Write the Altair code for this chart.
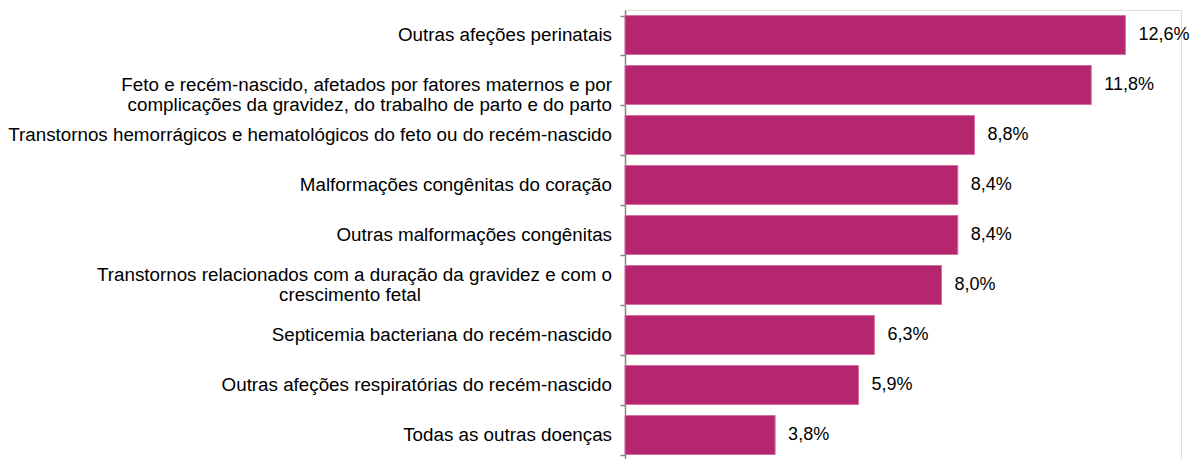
import altair as alt
import pandas as pd

categories = [
    "Outras afeções perinatais",
    "Feto e recém-nascido, afetados por fatores maternos e por|complicações da gravidez, do trabalho de parto e do parto",
    "Transtornos hemorrágicos e hematológicos do feto ou do recém-nascido",
    "Malformações congênitas do coração",
    "Outras malformações congênitas",
    "Transtornos relacionados com a duração da gravidez e com o|crescimento fetal",
    "Septicemia bacteriana do recém-nascido",
    "Outras afeções respiratórias do recém-nascido",
    "Todas as outras doenças",
]
values = [12.6, 11.74, 8.8, 8.38, 8.38, 7.97, 6.28, 5.88, 3.78]
value_labels = ["12,6%", "11,8%", "8,8%", "8,4%", "8,4%", "8,0%", "6,3%", "5,9%", "3,8%"]
centered = [False, False, False, False, False, True, False, False, False]

df = pd.DataFrame({
    "cat": categories,
    "value": values,
    "vlabel": value_labels,
    "centered": centered,
    "first": [c.split("|")[0] for c in categories],
    "second": [c.split("|")[1] if "|" in c else "" for c in categories],
})

FONT = "Liberation Sans"
COLOR = "#B5266F"
CAT_SIZE = 18.8

y = alt.Y("cat:N", sort=categories, title=None,
          scale=alt.Scale(paddingInner=0.22, paddingOuter=0.11),
          axis=alt.Axis(labels=False, domainColor="#868686", domainWidth=1.5,
                        tickColor="#868686", tickWidth=1.5, tickSize=5,
                        tickBand="extent", grid=False))

base = alt.Chart(df)

bars = base.mark_bar(color=COLOR, stroke="#D46FA3", strokeWidth=1).encode(
    x=alt.X("value:Q", scale=alt.Scale(domain=[0, 14]), axis=None),
    y=y,
)

vals = base.mark_text(align="left", baseline="middle", dx=13, font=FONT,
                      fontSize=18, color="#000").encode(
    x="value:Q", y=alt.Y("cat:N", sort=categories), text="vlabel:N")

cat_right = base.transform_filter("!datum.centered").mark_text(
    align="right", baseline="middle", font=FONT, fontSize=CAT_SIZE, color="#000",
    lineBreak="|", lineHeight=20).encode(
    x=alt.value(-13), y=alt.Y("cat:N", sort=categories), text="cat:N")

cat_c1 = base.transform_filter("datum.centered").mark_text(
    align="right", baseline="middle", dy=-10, font=FONT, fontSize=CAT_SIZE,
    color="#000").encode(
    x=alt.value(-13), y=alt.Y("cat:N", sort=categories), text="first:N")

cat_c2 = base.transform_filter("datum.centered").mark_text(
    align="center", baseline="middle", dy=10, font=FONT, fontSize=CAT_SIZE,
    color="#000").encode(
    x=alt.value(-275), y=alt.Y("cat:N", sort=categories), text="second:N")

chart = alt.layer(bars, vals, cat_right, cat_c1, cat_c2).properties(
    width=556, height=450,
    padding={"left": 617, "top": 2, "right": 10, "bottom": 0},
    autosize=alt.AutoSizeParams(type="none"),
).configure_view(stroke=None).configure(background="white")

chart.save("out.html", embed_options={"renderer": "svg", "actions": False})
